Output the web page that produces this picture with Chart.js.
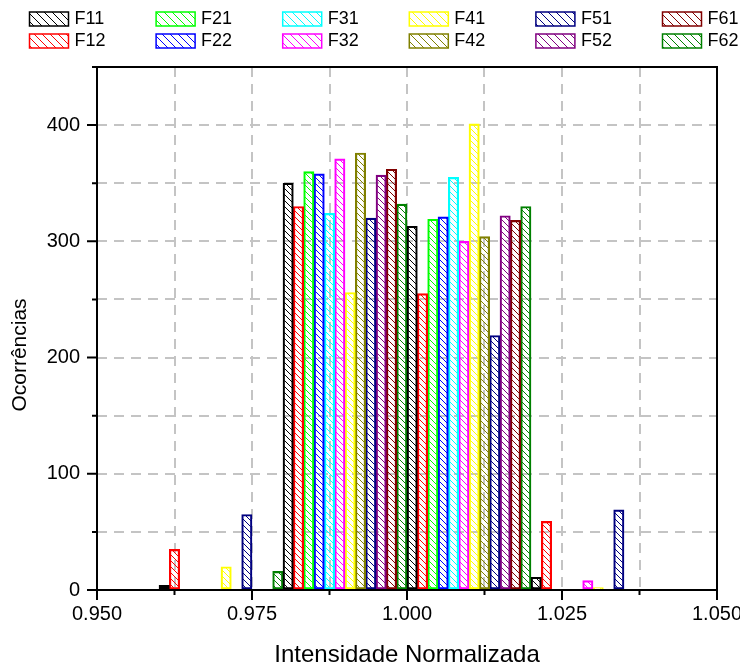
<!DOCTYPE html>
<html>
<head>
<meta charset="utf-8">
<script src="https://cdn.jsdelivr.net/npm/chart.js@4/dist/chart.umd.min.js"></script>
<style>
  html, body { margin: 0; padding: 0; background: #ffffff; }
  #c { display: block; }
</style>
</head>
<body>
<canvas id="c" width="740" height="668"></canvas>
<script>
// ---- Data ----
const binStarts = [0.96, 0.98, 1.00, 1.02];
const binWidth = 0.02;
const seriesNames = ['F11','F12','F21','F22','F31','F32','F41','F42','F51','F52','F61','F62'];
const seriesColors = ['#000000','#ff0000','#00ff00','#0000ff','#00ffff','#ff00ff','#ffff00','#808000','#000080','#800080','#800000','#008000'];
const F11 = [4, 350, 313, 11];
const F12 = [35, 330, 255, 59];
const F21 = [0, 360, 319, 0];
const F22 = [0, 358, 321, 0];
const F31 = [0, 324, 355, 0];
const F32 = [0, 371, 300, 8];
const F41 = [20, 256, 401, 2];
const F42 = [0, 376, 304, 0];
const F51 = [65, 320, 219, 69];
const F52 = [0, 357, 322, 0];
const F61 = [0, 362, 318, 0];
const F62 = [16, 332, 330, 0];
const seriesValues = [F11, F12, F21, F22, F31, F32, F41, F42, F51, F52, F61, F62];
const xTickLabels = ['0.950','0.975','1.000','1.025','1.050'];
const yTickLabels = ['0','100','200','300','400'];
const xTitle = 'Intensidade Normalizada';
const yTitle = 'Ocorrências';
// legend layout order (row-major)
const legendOrder = ['F11','F21','F31','F41','F51','F61','F12','F22','F32','F42','F52','F62'];

const FONT = "'Liberation Sans', Arial, sans-serif";

function hatch(color, p) {
  const c = document.createElement('canvas');
  c.width = p; c.height = p;
  const g = c.getContext('2d');
  g.strokeStyle = color;
  g.lineWidth = 1;
  for (let k = -1; k <= 1; k++) {
    g.beginPath();
    g.moveTo(k * p, 0);
    g.lineTo(k * p + p, p);
    g.stroke();
  }
  return g.createPattern(c, 'repeat');
}

const nS = seriesNames.length;
const datasets = seriesNames.map((name, i) => ({
  label: name,
  data: binStarts.map((b, j) => ({ x: b + (i + 0.5) * binWidth / nS, y: seriesValues[i][j] })),
  backgroundColor: hatch(seriesColors[i], 6),
  borderColor: seriesColors[i],
  borderWidth: 1.5,
  borderSkipped: false,
  grouped: false,
  barPercentage: 1,
  categoryPercentage: 1
}));

function isMult(v, step) {
  const r = v / step;
  return Math.abs(r - Math.round(r)) < 1e-6;
}

const decorPlugin = {
  id: 'decor',
  afterDraw(chart) {
    const ctx = chart.ctx;
    const a = chart.chartArea;
    const xs = chart.scales.x, ys = chart.scales.y;
    ctx.save();
    // frame
    ctx.strokeStyle = '#000';
    ctx.lineWidth = 2;
    ctx.strokeRect(a.left, a.top, a.right - a.left, a.bottom - a.top);
    // ticks
    ctx.lineWidth = 2;
    ctx.beginPath();
    xs.ticks.forEach(t => {
      const px = xs.getPixelForValue(t.value);
      const len = isMult(t.value, 0.025) ? 10 : 5;
      ctx.moveTo(px, a.bottom);
      ctx.lineTo(px, a.bottom + len);
    });
    ys.ticks.forEach(t => {
      const py = ys.getPixelForValue(t.value);
      const len = isMult(t.value, 100) ? 10 : 5;
      ctx.moveTo(a.left, py);
      ctx.lineTo(a.left - len, py);
    });
    ctx.stroke();
    // axis titles
    ctx.fillStyle = '#000';
    ctx.font = '24px ' + FONT;
    ctx.textAlign = 'center';
    ctx.textBaseline = 'alphabetic';
    ctx.fillText(xTitle, (a.left + a.right) / 2, 662);
    ctx.save();
    ctx.translate(26, 355);
    ctx.rotate(-Math.PI / 2);
    ctx.font = '21px ' + FONT;
    ctx.fillText(yTitle, 0, 0);
    ctx.restore();
    // legend
    ctx.font = '18px ' + FONT;
    ctx.textAlign = 'left';
    ctx.textBaseline = 'middle';
    legendOrder.forEach((name, k) => {
      const i = seriesNames.indexOf(name);
      const col = k % 6, row = Math.floor(k / 6);
      const bx = 29.5 + col * 126.6, by = 12 + row * 22;
      ctx.fillStyle = hatch(seriesColors[i], 8);
      ctx.fillRect(bx, by, 39, 14);
      ctx.strokeStyle = seriesColors[i];
      ctx.lineWidth = 1.5;
      ctx.strokeRect(bx, by, 39, 14);
      ctx.fillStyle = '#000';
      ctx.fillText(name, bx + 45, by + 7.5);
    });
    ctx.restore();
  }
};

new Chart(document.getElementById('c'), {
  type: 'bar',
  data: { datasets },
  options: {
    responsive: false,
    animation: false,
    devicePixelRatio: 1,
    layout: { padding: { left: 0, top: 67, right: 23, bottom: 0 } },
    plugins: { legend: { display: false }, tooltip: { enabled: false } },
    scales: {
      x: {
        type: 'linear',
        min: 0.95, max: 1.05,
        offset: false,
        grid: { color: '#c4c4c4', lineWidth: 2, drawTicks: false, offset: false },
        border: { display: false, dash: [10, 7] },
        ticks: {
          stepSize: 0.0125,
          autoSkip: false,
          maxRotation: 0,
          padding: 12,
          color: '#000',
          font: { family: FONT, size: 20 },
          callback: (v) => {
            if (!isMult(v, 0.025)) return '';
            const idx = Math.round((v - 0.95) / 0.025);
            return xTickLabels[idx];
          }
        },
        afterFit: (s) => { s.height = 78; s.paddingLeft = 0; s.paddingRight = 0; }
      },
      y: {
        min: 0, max: 450,
        grid: { color: '#c4c4c4', lineWidth: 2, drawTicks: false },
        border: { display: false, dash: [10, 7] },
        ticks: {
          stepSize: 50,
          autoSkip: false,
          padding: 17,
          color: '#000',
          font: { family: FONT, size: 20 },
          callback: (v) => isMult(v, 100) ? yTickLabels[Math.round(v / 100)] : ''
        },
        afterFit: (s) => { s.width = 97; s.paddingTop = 0; s.paddingBottom = 0; }
      }
    }
  },
  plugins: [decorPlugin]
});
</script>
</body>
</html>
